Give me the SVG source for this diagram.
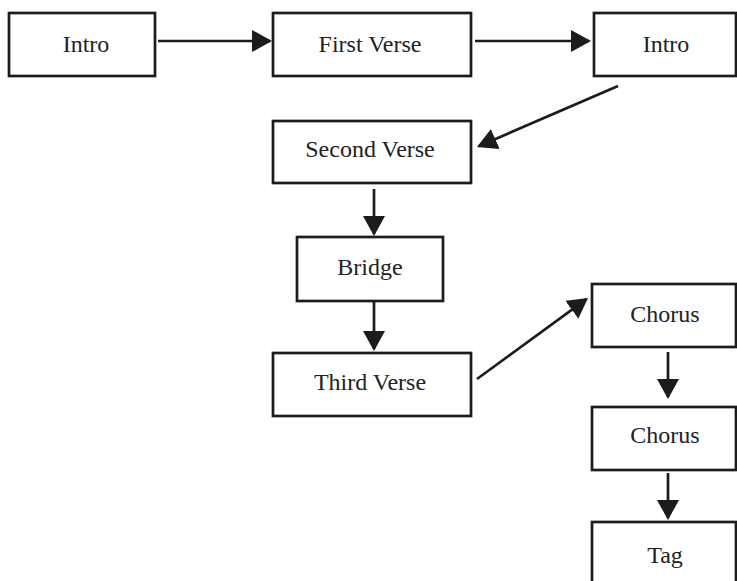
<svg xmlns="http://www.w3.org/2000/svg" width="737" height="581" viewBox="0 0 737 581">
  <style>
    .box { fill: #ffffff; stroke: #1c1c1c; stroke-width: 2.7; }
    .lbl { font-family: "Liberation Serif", "Times New Roman", serif; font-size: 24px; fill: #222222; text-anchor: middle; }
    .conn { stroke: #1c1c1c; stroke-width: 2.7; fill: none; marker-end: url(#arrow); }
  </style>
  <defs>
    <marker id="arrow" markerUnits="userSpaceOnUse" markerWidth="22" markerHeight="24" refX="18" refY="11" orient="auto">
      <path d="M0,0 L20,11 L0,22 z" fill="#1c1c1c"/>
    </marker>
  </defs>
  <rect width="737" height="581" fill="#ffffff"/>

  <g id="connectors">
    <line class="conn" x1="158" y1="41" x2="270" y2="41"/>
    <line class="conn" x1="475" y1="41" x2="589" y2="41"/>
    <line class="conn" x1="618" y1="86" x2="478.8" y2="146.2"/>
    <line class="conn" x1="374" y1="189" x2="374" y2="234"/>
    <line class="conn" x1="374" y1="302" x2="374" y2="349"/>
    <line class="conn" x1="477" y1="379" x2="586.4" y2="299.2"/>
    <line class="conn" x1="668" y1="352" x2="668" y2="397"/>
    <line class="conn" x1="668" y1="473" x2="668" y2="518"/>
  </g>

  <g id="intro1">
    <rect class="box" x="9" y="13" width="146" height="63"/>
    <text class="lbl" x="86" y="52">Intro</text>
  </g>
  <g id="first-verse">
    <rect class="box" x="273" y="13" width="198" height="63"/>
    <text class="lbl" x="370" y="52">First Verse</text>
  </g>
  <g id="intro2">
    <rect class="box" x="594" y="13" width="142" height="63"/>
    <text class="lbl" x="666" y="52">Intro</text>
  </g>
  <g id="second-verse">
    <rect class="box" x="273" y="121" width="198" height="62"/>
    <text class="lbl" x="370" y="157">Second Verse</text>
  </g>
  <g id="bridge">
    <rect class="box" x="297" y="237" width="146" height="64"/>
    <text class="lbl" x="370" y="275">Bridge</text>
  </g>
  <g id="third-verse">
    <rect class="box" x="273" y="353" width="198" height="63"/>
    <text class="lbl" x="370" y="390">Third Verse</text>
  </g>
  <g id="chorus1">
    <rect class="box" x="592" y="284" width="144" height="63"/>
    <text class="lbl" x="665" y="322">Chorus</text>
  </g>
  <g id="chorus2">
    <rect class="box" x="592" y="407" width="144" height="63"/>
    <text class="lbl" x="665" y="443">Chorus</text>
  </g>
  <g id="tag">
    <rect class="box" x="592" y="522" width="144" height="66"/>
    <text class="lbl" x="665" y="563">Tag</text>
  </g>
</svg>
